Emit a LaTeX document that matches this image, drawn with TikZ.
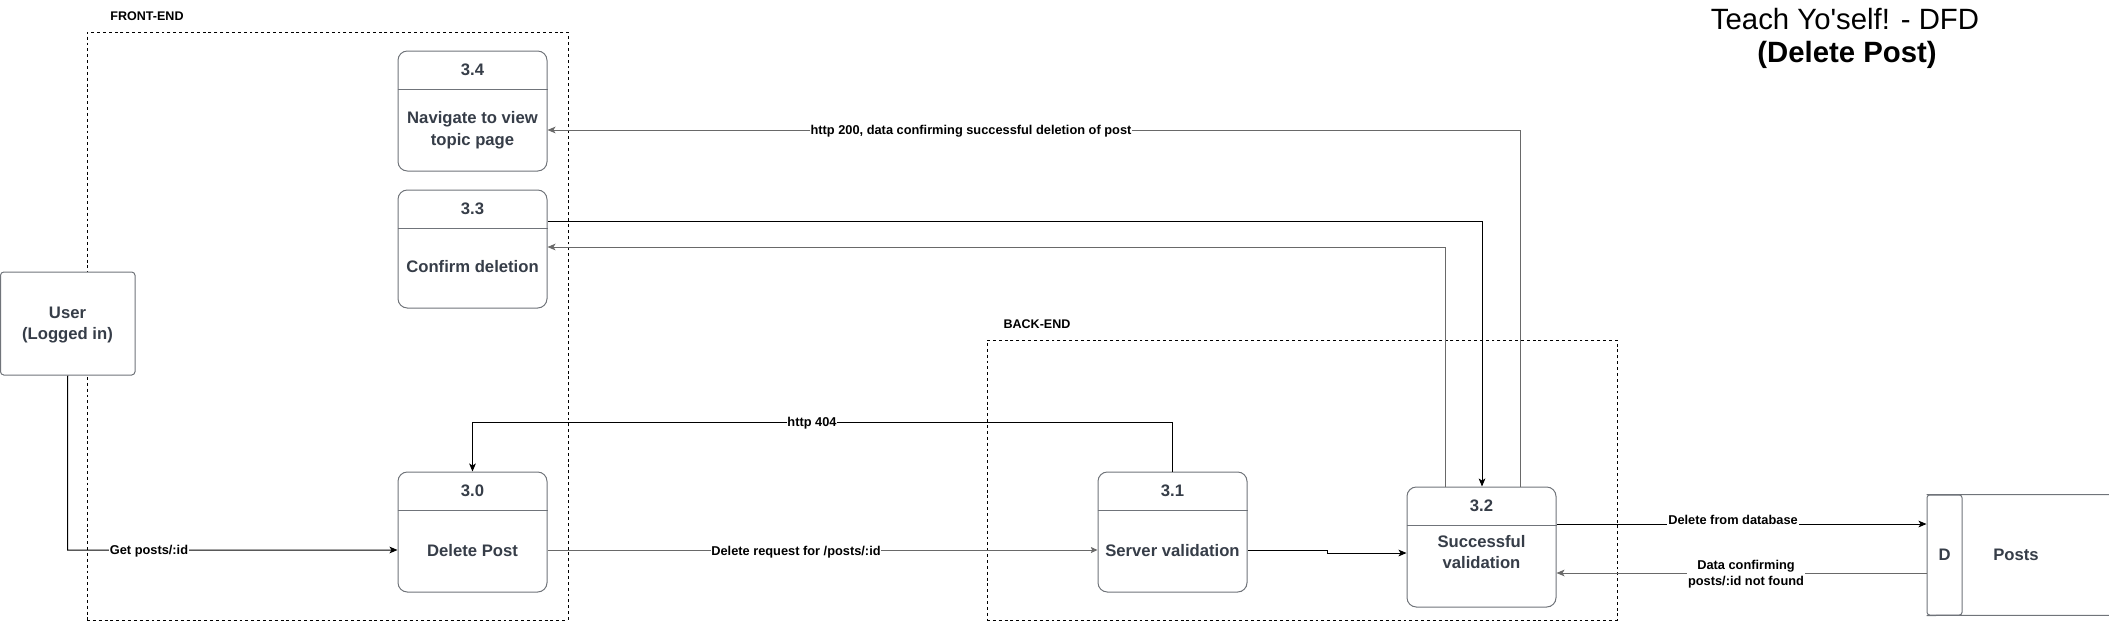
\documentclass[tikz,border=0pt]{standalone}
\usepackage{fontspec}
\setmainfont{Liberation Sans}
\usetikzlibrary{arrows.meta,fit,calc}
\definecolor{slate}{RGB}{54,61,72}
\definecolor{boxgray}{RGB}{112,116,122}
\definecolor{linegray}{RGB}{105,105,105}
\begin{document}
\begin{tikzpicture}[x=0.75pt,y=-0.75pt,
  proc/.style={draw=boxgray, fill=white, line width=0.75pt, rounded corners=7pt, inner sep=0pt},
  ext/.style={draw=boxgray, fill=white, line width=0.75pt, rounded corners=2.5pt, inner sep=0pt},
  grp/.style={draw=black, line width=0.7pt, dash pattern=on 2.2pt off 2.2pt, inner sep=0pt},
  num/.style={font=\bfseries\fontsize{12.5}{15}\selectfont, text=slate},
  ptext/.style={font=\bfseries\fontsize{12.5}{16.2}\selectfont, text=slate, align=center},
  lbl/.style={font=\bfseries\fontsize{9.6}{11.8}\selectfont, fill=white, inner sep=0.6pt, align=center},
  grplbl/.style={font=\bfseries\fontsize{9.4}{11}\selectfont, inner sep=0pt},
  flow/.style={line width=0.75pt, -{Stealth[length=6pt,width=5pt,inset=1.5pt]}},
  hdr/.style={draw=boxgray, line width=0.75pt}
]
\useasboundingbox (0,0) rectangle (2109,622);

% group boxes
\node[grp, fit={(87,32) (568,620)}] (front) {};
\node[grp, fit={(987,340) (1617,620)}] (back) {};
\node[grplbl] (lfront) at (147,16) {FRONT-END};
\node[grplbl] (lback) at (1037,324) {BACK-END};

% title
\node[font=\fontsize{22}{26}\selectfont] (t1) at (1845,19) {Teach Yo\textquotesingle self! - DFD};
\node[font=\bfseries\fontsize{22}{26}\selectfont] (t2) at (1847,55) {(Delete Post)};

% user
\node[ext, fit={(0.5,272) (135,375)}] (user) {};
\node[ptext] (tuser) at (67.5,325) {User\\(Logged in)};

% processes
\node[proc, fit={(398,51) (547,171)}] (p34) {};
\draw[hdr] ($(p34.north west)+(0,39)$) -- ($(p34.north east)+(0,39)$);
\node[num] (n34) at ($(p34.north)+(0,19.5)$) {3.4};
\node[ptext] (b34) at (472.5,130) {Navigate to view\\topic page};

\node[proc, fit={(398,190) (547,308)}] (p33) {};
\draw[hdr] ($(p33.north west)+(0,39)$) -- ($(p33.north east)+(0,39)$);
\node[num] (n33) at ($(p33.north)+(0,19.5)$) {3.3};
\node[ptext] (b33) at (472.5,267) {Confirm deletion};

\node[proc, fit={(398,472) (547,592)}] (p30) {};
\draw[hdr] ($(p30.north west)+(0,39)$) -- ($(p30.north east)+(0,39)$);
\node[num] (n30) at ($(p30.north)+(0,19.5)$) {3.0};
\node[ptext] (b30) at (472.5,551) {Delete Post};

\node[proc, fit={(1098,472) (1247,592)}] (p31) {};
\draw[hdr] ($(p31.north west)+(0,39)$) -- ($(p31.north east)+(0,39)$);
\node[num] (n31) at ($(p31.north)+(0,19.5)$) {3.1};
\node[ptext] (b31) at (1172.5,551) {Server validation};

\node[proc, fit={(1407,487) (1556,607)}] (p32) {};
\draw[hdr] ($(p32.north west)+(0,39)$) -- ($(p32.north east)+(0,39)$);
\node[num] (n32) at ($(p32.north)+(0,19.5)$) {3.2};
\node[ptext] (b32) at (1481.5,552) {Successful\\validation};

% data store
\node[inner sep=0pt, fit={(1927,495) (2109,615)}] (posts) {};
\node[ext, rounded corners=2pt, fit={(1927,495) (1962,615)}] (dbox) {};
\draw[draw=boxgray, line width=0.75pt] (dbox.north west) -- (posts.north east);
\draw[draw=boxgray, line width=0.75pt] (dbox.south west) -- (posts.south east);
\node[ptext] (td) at (dbox.center) {D};
\node[ptext] (tposts) at (2016,555) {Posts};

% connectors
\coordinate (c200) at (1520,130);
\draw[flow, linegray] (p32.north -| c200) -- (c200) -- (p34.east |- c200);
\node[lbl] (l200) at (971,131) {http 200, data confirming successful deletion of post};

\coordinate (c33o) at (1482,221);
\draw[flow] (p33.east |- c33o) -- (c33o) -- (p32.north -| c33o);

\coordinate (c33i) at (1445,247);
\draw[flow, linegray] (p32.north -| c33i) -- (c33i) -- (p33.east |- c33i);

\coordinate (cu) at (67.5,550);
\draw[flow] (user.south) -- (cu) -- (p30.west |- cu);
\node[lbl] (lget) at (149,551) {Get posts/:id};

\coordinate (cdr) at (800,550);
\draw[line width=0.75pt, linegray, -{Stealth[length=5pt,width=4.5pt,inset=1pt]}] (p30.east |- cdr) -- (p31.west |- cdr);
\node[lbl] (ldr) at (796,552) {Delete request for /posts/:id};

\coordinate (c404) at (800,422);
\draw[flow] (p31.north) -- (p31.north |- c404) -- (p30.north |- c404) -- (p30.north);
\node[lbl] (l404) at (812,423) {http 404};

\coordinate (cj1) at (1327,550);
\coordinate (cj2) at (1327,553);
\draw[flow] (p31.east |- cj1) -- (cj1) -- (cj2) -- (p32.west |- cj2);

\coordinate (cdb) at (1700,524);
\draw[flow] (p32.east |- cdb) -- (dbox.west |- cdb);
\node[lbl] (ldb) at (1733,520) {Delete from database};

\coordinate (cdc) at (1700,573);
\draw[flow, linegray] (dbox.west |- cdc) -- (p32.east |- cdc);
\node[lbl] (ldc) at (1746,574) {Data confirming\\posts/:id not found};
\end{tikzpicture}
\end{document}
